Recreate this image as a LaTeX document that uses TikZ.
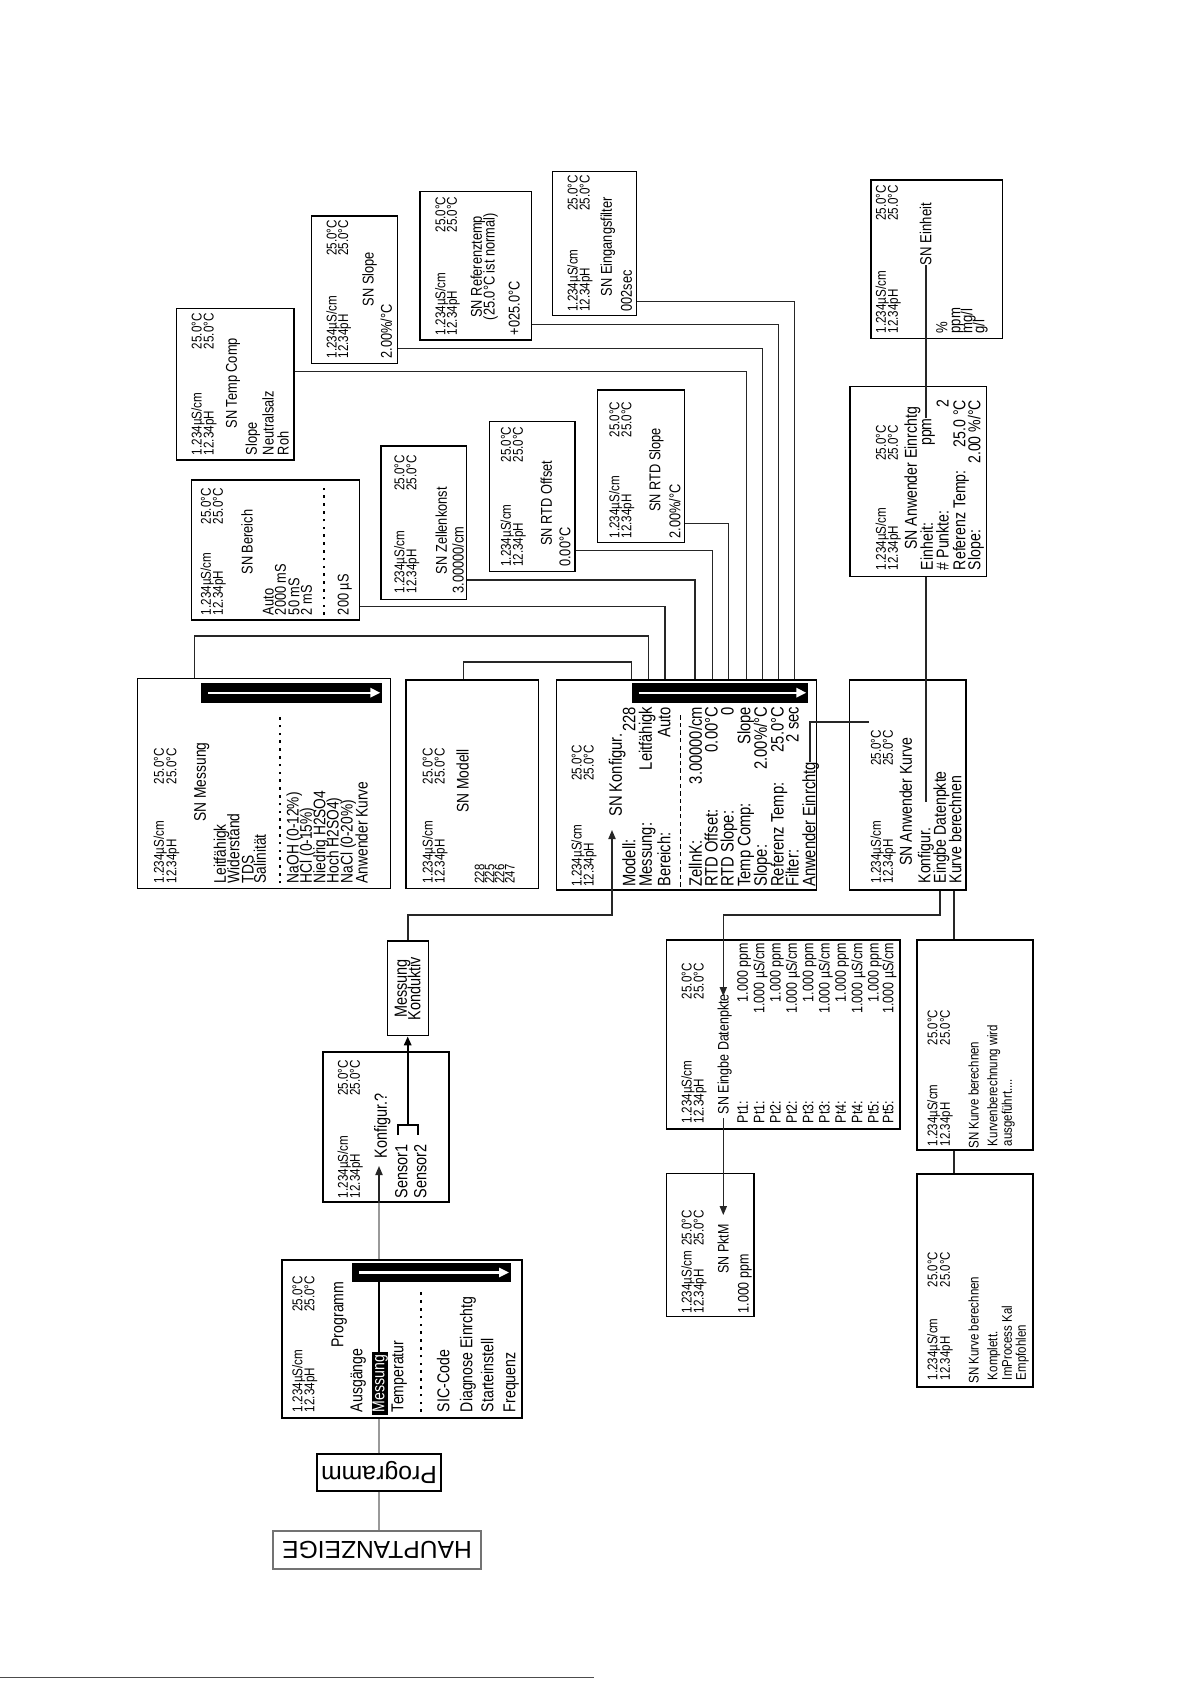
\documentclass[tikz,border=0pt]{standalone}
\usepackage{fontspec}
\setmainfont{Liberation Sans}[FakeStretch=0.82]
\newfontfamily\widefont{Liberation Sans}
\usetikzlibrary{arrows.meta,fit}
\newcommand\fs[1]{\fontsize{#1}{#1}\selectfont}
\def\isz{8.2}
\def\hsz{7.1}
\tikzset{
  T/.style={rotate=90, inner sep=0pt, outer sep=0pt, font=\fs{\isz}},
  L/.style={T, anchor=mid west},
  R/.style={T, anchor=mid east},
  C/.style={T, anchor=mid},
  H/.style={font=\fs{\hsz}},
  scr/.style={draw=black, line width=0.65pt, inner sep=0pt},
  con/.style={draw=black!85, line width=0.65pt},
  gcon/.style={draw=black!40, line width=0.8pt},
  arr/.style={-{Triangle[length=4.5pt,width=3.6pt]}},
  dots/.style={line width=0.9pt, dash pattern=on 1.3pt off 2.6pt},
  dsh/.style={line width=0.35pt, dash pattern=on 2.2pt off 1.6pt},
}
\newcommand\hdr[5]{%
  \node[L,H] (#1ha) at (#2,#3) {1.234µS/cm};
  \node[L,H] (#1hb) at (#2+#5,#3) {12.34pH};
  \node[R,H] (#1hc) at (#2,#4) {25.0°C};
  \node[R,H] (#1hd) at (#2+#5,#4) {25.0°C};}
\newcommand\scrn[5]{\node[scr, fit={(#2,#3) (#4,#5)}] (#1) {};}
\newcommand\sbar[5]{%
  \node[fit={(#2,#3) (#4,#5)}, inner sep=0pt, fill=black] (#1) {};
  \draw[white, line width=1.2pt, -{Triangle[length=5pt,width=4.6pt]}] (#2+7,{(#3+#5)/2}) -- (#4-2,{(#3+#5)/2});}
\begin{document}
\begin{tikzpicture}[x=0.5pt, y=-0.5pt]
\fill[white] (0,0) rectangle (1191,1685);
\useasboundingbox (0,0) rectangle (1191,1685);

% ---------------- HAUPTANZEIGE / Programm button
\node[scr, draw=black!55, fit={(273,1531) (481,1569)}] (haupt) {};
\node[rotate=180, inner sep=0pt, font={\widefont\fs{12.3}}] (hauptt) at (377,1550) {HAUPTANZEIGE};
\scrn{pbtn}{317}{1454}{441}{1491}
\node[rotate=180, inner sep=0pt, font={\widefont\fs{12.4}}] (pbtnt) at (379,1472.5) {Programm};

% ---------------- Programm screen
\begin{scope}\def\isz{8.6}
\scrn{prog}{282}{1260}{522}{1418}
\sbar{progbar}{352}{1263}{511}{1282}
\hdr{prog}{297}{1412}{1276}{12}
\node[C] (progt) at (338,1314.5) {Programm};
\node[L] (pa) at (357,1412) {Ausgänge};
\node[fit={(372.3,1351.7) (387.7,1415)}, inner sep=0pt, fill=black] (hl) {};
\node[L, text=white] (pm) at (379,1412) {Messung};
\node[L] (pt) at (398,1412) {Temperatur};
\draw[dots] (421,1412) -- (421,1292);
\node[L] (ps) at (444,1412) {SIC-Code};
\node[L] (pd) at (467,1412) {Diagnose Einrchtg};
\node[L] (pst) at (488,1412) {Starteinstell};
\node[L] (pf) at (510,1412) {Frequenz};
\end{scope}

% ---------------- Konfigur.? screen
\begin{scope}\def\isz{8.8}
\scrn{konf}{323}{1052}{449}{1202}
\hdr{konf}{342.5}{1198}{1060}{12}
\node[L] (kq) at (381.7,1158) {Konfigur.?};
\node[L] (ks1) at (402,1198) {Sensor1};
\node[L] (ks2) at (421,1198) {Sensor2};
\end{scope}

% ---------------- Messung Konduktiv
\begin{scope}\def\isz{8.8}
\scrn{mk}{387.7}{941}{428.3}{1035.7}
\node[C] (mk1) at (401.5,988.5) {Messung};
\node[C] (mk2) at (415,988.5) {Konduktiv};
\end{scope}

% ---------------- SN Messung
\begin{scope}\def\isz{8.4}
\scrn{mess}{137.3}{678.3}{390.7}{888.3}
\sbar{messbar}{201}{682.7}{382.3}{702.7}
\hdr{mess}{158.7}{883.3}{748.3}{12.5}
\node[C] (messt) at (200.7,782) {SN Messung};
\node[L] (me1) at (220.7,883.3) {Leitfähigk};
\node[L] (me2) at (234,883.3) {Widerstand};
\node[L] (me3) at (248.3,883.3) {TDS};
\node[L] (me4) at (260.7,883.3) {Salinität};
\draw[dots] (280,883.3) -- (280,712);
\node[L] (me5) at (293.3,883.3) {NaOH (0-12\%)};
\node[L] (me6) at (306.7,883.3) {HCl (0-15\%)};
\node[L] (me7) at (320,883.3) {Niedrig H2SO4};
\node[L] (me8) at (333.3,883.3) {Hoch H2SO4)};
\node[L] (me9) at (347.3,883.3) {NaCl (0-20\%)};
\node[L] (me10) at (362.3,883.3) {Anwender Kurve};
\end{scope}

% ---------------- SN Modell
\begin{scope}\def\isz{8.4}
\scrn{modell}{406}{680}{538.3}{888.3}
\hdr{modell}{427.3}{883.3}{748.3}{12}
\node[C] (modt) at (463.3,780.7) {SN Modell};
\def\isz{6.9}
\node[L] (mo1) at (479,883.3) {228};
\node[L] (mo2) at (489,883.3) {225};
\node[L] (mo3) at (499,883.3) {226};
\node[L] (mo4) at (509.3,883.3) {247};
\end{scope}

% ---------------- SN Konfigur.
\begin{scope}\def\isz{9}
\scrn{kfg}{556.7}{680}{816.7}{890}
\sbar{kfgbar}{631.7}{682.7}{808.3}{702.7}
\hdr{kfg}{576.3}{886.7}{745}{12}
\node[L] (kfgt) at (616.7,816.7) {SN Konfigur.};
\node[L] (kf1) at (630,886.7) {Modell:};
\node[R] (kv1) at (630,707) {228};
\node[L] (kf2) at (646.7,886.7) {Messung:};
\node[R] (kv2) at (646.7,707) {Leitfähigk};
\node[L] (kf3) at (665,886.7) {Bereich:};
\node[R] (kv3) at (665,707) {Auto};
\draw[dsh] (680,886.7) -- (680,712);
\node[L] (kf4) at (696.7,886.7) {ZellnK:};
\node[R] (kv4) at (696.7,707) {3.00000/cm};
\node[L] (kf5) at (712.3,886.7) {RTD Offset:};
\node[R] (kv5) at (712.3,707) {0.00°C};
\node[L] (kf6) at (728.3,886.7) {RTD Slope:};
\node[R] (kv6) at (728.3,707) {0};
\node[L] (kf7) at (745,886.7) {Temp Comp:};
\node[R] (kv7) at (745,707) {Slope};
\node[L] (kf8) at (761.7,886.7) {Slope:};
\node[R] (kv8) at (761.7,707) {2.00\%/°C};
\node[L] (kf9) at (778.3,886.7) {Referenz Temp:};
\node[R] (kv9) at (778.3,707) {25.0°C};
\node[L] (kf10) at (793.3,886.7) {Filter:};
\node[R] (kv10) at (793.3,707) {2 sec};
\node[L] (kfae) at (810,886.7) {Anwender Einrchtg};
\end{scope}

% ---------------- SN Anwender Kurve
\begin{scope}\def\isz{8.6}
\scrn{ak}{849.3}{680}{966}{890}
\hdr{ak}{875.7}{883.3}{730}{12}
\node[C] (akt) at (906.7,801.7) {SN Anwender Kurve};
\node[L] (ak1) at (925,883.3) {Konfigur.};
\node[L] (ak2) at (940.7,883.3) {Eingbe Datenpkte};
\node[L] (ak3) at (956,883.3) {Kurve berechnen};
\end{scope}

% ---------------- SN Anwender Einrchtg
\begin{scope}\def\isz{8.6}
\scrn{ae}{850}{386.7}{986.7}{576.7}
\hdr{ae}{880.7}{570}{425}{12}
\node[C] (aet) at (911.7,478.3) {SN Anwender Einrchtg};
\node[L] (ae1) at (927.7,570) {Einheit:};
\node[R] (aeppm) at (926,418.3) {ppm};
\node[L] (ae2) at (943.3,570) {\# Punkte:};
\node[R] (aev2) at (943.3,400) {2};
\node[L] (ae3) at (960,570) {Referenz Temp:};
\node[R] (aev3) at (960,400) {25.0 °C};
\node[L] (ae4) at (975,570) {Slope:};
\node[R] (aev4) at (975,400) {2.00 \%/°C};
\end{scope}

% ---------------- SN Einheit
\begin{scope}\def\isz{8}
\scrn{einh}{871}{180}{1002.3}{338.3}
\hdr{einh}{880.7}{333.3}{185}{12}
\node[L] (eint) at (926,265) {SN Einheit};
\node[L] (ei1) at (942,333.3) {\%};
\node[L] (ei2) at (955,333.3) {ppm};
\node[L] (ei3) at (967,333.3) {mg/l};
\node[L] (ei4) at (979,333.3) {g/l};
\end{scope}

% ---------------- SN Eingbe Datenpkte
\begin{scope}\def\isz{7.6}
\scrn{edp}{666.7}{940}{900}{1129}
\hdr{edp}{686.3}{1123}{963.3}{12}
\node[L] (edpt) at (723.3,1114) {SN Eingbe Datenpkte};
\node[L] (p1) at (742.7,1123) {Pt1:};  \node[R] (v1) at (742.7,943.3) {1.000 ppm};
\node[L] (p2) at (759,1123) {Pt1:};    \node[R] (v2) at (759,943.3) {1.000 µS/cm};
\node[L] (p3) at (775.3,1123) {Pt2:};  \node[R] (v3) at (775.3,943.3) {1.000 ppm};
\node[L] (p4) at (791.7,1123) {Pt2:};  \node[R] (v4) at (791.7,943.3) {1.000 µS/cm};
\node[L] (p5) at (808,1123) {Pt3:};    \node[R] (v5) at (808,943.3) {1.000 ppm};
\node[L] (p6) at (824.3,1123) {Pt3:};  \node[R] (v6) at (824.3,943.3) {1.000 µS/cm};
\node[L] (p7) at (840.7,1123) {Pt4:};  \node[R] (v7) at (840.7,943.3) {1.000 ppm};
\node[L] (p8) at (857,1123) {Pt4:};    \node[R] (v8) at (857,943.3) {1.000 µS/cm};
\node[L] (p9) at (873.3,1123) {Pt5:};  \node[R] (v9) at (873.3,943.3) {1.000 ppm};
\node[L] (p10) at (888,1123) {Pt5:};   \node[R] (v10) at (888,943.3) {1.000 µS/cm};
\end{scope}

% ---------------- SN PktM
\begin{scope}\def\isz{7.6}
\scrn{pktm}{666.7}{1173.3}{754}{1316.7}
\hdr{pktm}{686.3}{1313.3}{1210}{12}
\node[L] (pktmt) at (723.3,1273.3) {SN PktM};
\node[L] (pktmv) at (743.3,1313.3) {1.000 ppm};
\end{scope}

% ---------------- SN Kurve berechnen (2 screens)
\begin{scope}\def\isz{7}\def\hsz{7}
\scrn{kb1}{917}{940}{1033}{1150}
\hdr{kb1}{932}{1146}{1010}{12.5}
\node[C] (kb1t) at (973.3,1095) {SN Kurve berechnen};
\node[L] (kb1a) at (992,1146) {Kurvenberechnung wird};
\node[L] (kb1b) at (1006.5,1146) {ausgeführt....};
\scrn{kb2}{917}{1174}{1033}{1387}
\hdr{kb2}{932}{1380}{1252}{12.5}
\node[C] (kb2t) at (973.3,1330) {SN Kurve berechnen};
\node[L] (kb2a) at (992,1380) {Komplett.};
\node[L] (kb2b) at (1006.5,1380) {ImProcess Kal};
\node[L] (kb2c) at (1020.5,1380) {Empfohlen};
\end{scope}

% ---------------- top screens
\begin{scope}\def\isz{7.8}
\scrn{tc}{176.7}{308.3}{294}{460}
\hdr{tc}{196.3}{455}{313.3}{12}
\node[C] (tct) at (231.7,383.3) {SN Temp Comp};
\node[L] (tc1) at (251.7,455) {Slope};
\node[L] (tc2) at (268.3,455) {Neutralsalz};
\node[L] (tc3) at (283.3,455) {Roh};

\scrn{ber}{191.7}{480}{359.3}{620}
\hdr{ber}{205.7}{615}{488.3}{12}
\node[C] (bert) at (247.3,542) {SN Bereich};
\node[L] (be1) at (268.3,615) {Auto};
\node[L] (be2) at (280.5,615) {2000 mS};
\node[L] (be3) at (294,615) {50 mS};
\node[L] (be4) at (306.7,615) {2 mS};
\draw[dots] (324,615) -- (324,488.3);
\node[L] (be5) at (343.3,615) {200 µS};

\scrn{zk}{381}{446}{466.7}{599.3}
\hdr{zk}{399}{593.3}{455}{12}
\node[C] (zkt) at (441.7,530.7) {SN Zellenkonst};
\node[L] (zkv) at (458.3,593.3) {3.00000/cm};

\scrn{rtdo}{489.3}{421.7}{575}{571.7}
\hdr{rtdo}{505.7}{566.7}{426.7}{12}
\node[C] (rtdot) at (546.7,503.3) {SN RTD Offset};
\node[L] (rtdov) at (565,566.7) {0.00°C};

\scrn{rtds}{597.7}{390}{684.3}{542.7}
\hdr{rtds}{614}{538.3}{401.7}{12}
\node[C] (rtdst) at (655,470) {SN RTD Slope};
\node[L] (rtdsv) at (675,538.3) {2.00\%/°C};

\scrn{slp}{311.7}{216}{397.7}{363.3}
\hdr{slp}{331.3}{358.3}{220}{11.5}
\node[C] (slpt) at (368.3,279) {SN Slope};
\node[L] (slpv) at (386.7,358.3) {2.00\%/°C};

\scrn{ref}{420}{191.7}{531.7}{340}
\hdr{ref}{440}{335}{196.7}{11.7}
\node[C] (reft) at (476.7,266.7) {SN Referenztemp};
\node[C] (reft2) at (489.3,266.7) {(25.0°C ist normal)};
\node[L] (refv) at (514.3,335) {+025.0°C};

\scrn{filt}{552.7}{171.7}{636.7}{315.7}
\hdr{filt}{572.3}{311.7}{175}{12}
\node[C] (filtt) at (606.7,246.7) {SN Eingangsfilter};
\node[L] (filtv) at (626.7,311.7) {002sec};
\end{scope}

% ---------------- connectors
\draw[gcon] (pbtn.south) -- (pbtn.south |- haupt.north);
\draw[gcon] (pbtn.north) -- (pbtn.north |- prog.south);
\coordinate (pm1) at (379,1352);
\draw[line width=1.1pt] (pm1) -- (pm1 |- progbar.south);
\draw[gcon] (prog.north -| pm1) -- (konf.south -| pm1);
\coordinate (ktip) at (379,1166);
\draw[con, arr] (konf.south -| pm1) -- (ktip);
% Sensor bracket
\coordinate (b1) at (397.7,1135); \coordinate (b2) at (397.7,1125);
\coordinate (b3) at (417.7,1125); \coordinate (b4) at (417.7,1135);
\coordinate (b5) at (407.7,1125);
\draw[line width=1.1pt] (b1) -- (b2) -- (b3) -- (b4);
\draw[line width=1.1pt, arr] (b5) -- (b5 |- mk.south);
% Messung Konduktiv -> SN Konfigur.
\coordinate (j1) at (612,915);
\coordinate (kfgtip) at (612,830);
\draw[con, arr] (mk.north) |- (j1) -- (kfgtip);
% screens above SN Konfigur.
\coordinate (c1a) at (463.3,662); \coordinate (c1) at (631.7,662);
\draw[con] (modell.north -| c1a) -- (c1a) -- (c1) -- (kfg.north -| c1);
\coordinate (c2a) at (194.3,636); \coordinate (c2) at (648.3,636);
\draw[con] (mess.north -| c2a) -- (c2a) -- (c2) -- (kfg.north -| c2);
\coordinate (c3) at (665,606.7);
\draw[con] (ber.east |- c3) -- (c3) -- (kfg.north -| c3);
\coordinate (c4) at (695,580);
\draw[con] (zk.east |- c4) -- (c4) -- (kfg.north -| c4);
\coordinate (c5) at (712.3,550.7);
\draw[con] (rtdo.east |- c5) -- (c5) -- (kfg.north -| c5);
\coordinate (c6) at (728.3,523.3);
\draw[con] (rtds.east |- c6) -- (c6) -- (kfg.north -| c6);
\coordinate (c7) at (746.7,371.7);
\draw[con] (tc.east |- c7) -- (c7) -- (kfg.north -| c7);
\coordinate (c8) at (762.7,348.3);
\draw[con] (slp.east |- c8) -- (c8) -- (kfg.north -| c8);
\coordinate (c9) at (778.7,324.3);
\draw[con] (ref.east |- c9) -- (c9) -- (kfg.north -| c9);
\coordinate (c10) at (794.3,301.7);
\draw[con] (filt.east |- c10) -- (c10) -- (kfg.north -| c10);
% Anwender Einrchtg item -> SN Anwender Kurve
\coordinate (w2) at (869,722);
\draw[con] (kfae.mid east) |- (w2);
% SN Anwender Einrchtg <-> SN Einheit, SN Anwender Kurve
\draw[con] (aeppm.mid east) -- (eint.mid west);
\coordinate (akc) at (926,802);
\draw[con] (ae.south -| akc) -- (akc);
% SN Anwender Kurve -> Eingbe Datenpkte
\coordinate (e1) at (940,915); \coordinate (e2) at (723.3,915);
\coordinate (edptip) at (723.3,996);
\draw[con, arr] (ak.south -| e1) -- (e1) -- (e2) -- (edptip);
\coordinate (q1) at (723.3,1118); \coordinate (pktmtip) at (723.3,1215);
\draw[con, arr] (q1) -- (pktmtip);
% SN Anwender Kurve -> Kurve berechnen
\coordinate (k1) at (954,900);
\draw[con] (ak.south -| k1) -- (kb1.north -| k1);
\draw[con] (kb1.south -| k1) -- (kb2.north -| k1);

% footer rule
\coordinate (f1) at (0,1677); \coordinate (f2) at (594,1677);
\draw[black!70, line width=0.4pt] (f1) -- (f2);
\end{tikzpicture}
\end{document}
